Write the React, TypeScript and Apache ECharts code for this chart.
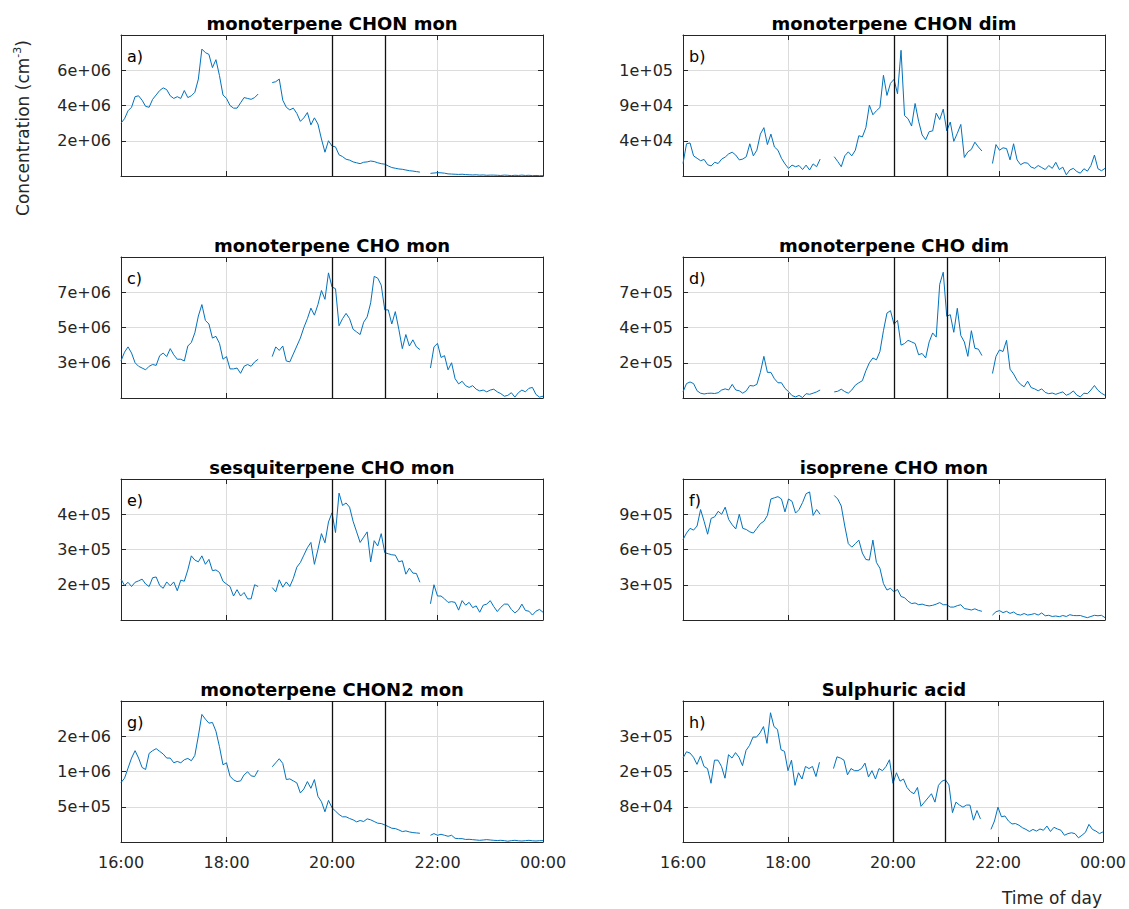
import React, { useEffect, useRef } from "react";
import * as echarts from "echarts";

// ---------- data ----------
const START_HOUR = 16;
const STEP_MINUTES = 4;
const X_TICKS = [16, 18, 20, 22, 24];
const X_TICK_LABELS = ["16:00", "18:00", "20:00", "22:00", "00:00"];
const EVENT_HOURS = [20, 21];

// a) monoterpene CHON mon, x1e6 cm-3
const chonMon = [
  3.0, 3.25, 3.7, 3.9, 4.5, 4.55, 4.3, 3.95, 3.9, 4.35,
  4.6, 4.85, 5.0, 4.9, 4.55, 4.4, 4.5, 4.4, 4.85, 4.45,
  4.55, 4.75, 5.5, 7.2, 7.0, 6.9, 6.15, 6.6, 5.7, 4.6,
  4.4, 4.0, 3.85, 3.85, 4.15, 4.45, 4.4, 4.35, 4.45, 4.65,
  null, null, null,
  5.3, 5.35, 5.5, 4.3, 3.9, 3.75, 3.85,
  3.55, 3.1, 3.3, 3.6, 2.9, 3.3, 2.95, 2.1, 1.35, 2.0,
  1.7, 1.65, 1.2, 1.1, 0.95, 0.9, 0.8, 0.75, 0.7, 0.78,
  0.8, 0.85, 0.82, 0.75, 0.7, 0.67, 0.57, 0.48, 0.44, 0.4,
  0.38, 0.34, 0.3, 0.28, 0.25, 0.22,
  null, null,
  0.15, 0.17, 0.19, 0.18, 0.16, 0.12, 0.11, 0.1, 0.09, 0.1, 0.08, 0.07,
  0.06, 0.07, 0.05, 0.06, 0.04, 0.05, 0.05, 0.04, 0.03, 0.05,
  0.04, 0.02, 0.04, 0.03, 0.05, 0.03, 0.04, 0.02, 0.03, 0.02, 0.02,
];

// b) monoterpene CHON dim, x1e4 cm-3
const chonDim = [
  1.55, 4.0, 4.1, 2.5, 2.2, 1.9, 2.05, 1.4, 1.25, 1.7,
  1.55, 2.1, 2.35, 2.75, 2.95, 2.6, 2.0, 2.1, 2.4, 4.0,
  2.5, 3.2, 5.2, 6.0, 3.9, 5.2, 3.6, 3.2, 2.2, 1.5,
  0.95, 1.35, 1.15, 1.3, 0.8, 1.35, 0.75, 1.5, 1.15, 2.1,
  null, null, null,
  2.4, 1.8, 1.15, 2.5, 3.0, 2.5, 3.2,
  5.0, 4.85, 6.0, 8.8, 7.6, 8.1, 8.5, 12.5, 10.0, 11.5,
  12.0, 10.2, 15.6, 7.5, 7.1, 6.2, 9.0, 6.8, 5.1, 4.5,
  5.5, 5.6, 7.8, 7.0, 8.3, 5.6, 6.7, 4.3, 5.3, 6.4,
  2.3, 3.0, 3.3, 4.2, 3.6, 3.1,
  null, null,
  1.55, 3.9, 3.2, 3.5, 3.4, 2.0, 4.0, 2.0, 1.4, 1.65, 1.6, 1.1,
  0.95, 1.3, 1.05, 0.8, 1.3, 0.95, 1.7, 0.8, 1.1, 0.15,
  0.75, 0.95, 0.55, 0.35, 0.9, 0.6, 1.3, 2.6, 0.9, 0.65, 0.95,
];

// c) monoterpene CHO mon, x1e6 cm-3
const choMon = [
  3.1, 3.6, 3.9, 3.55, 3.0, 2.8, 2.7, 2.6, 2.8, 2.9,
  2.85, 3.4, 3.55, 3.35, 3.8, 3.45, 3.2, 3.2, 3.1, 3.95,
  4.15, 4.7, 5.65, 6.3, 5.4, 5.2, 4.4, 4.5, 4.1, 3.2,
  3.35, 2.65, 2.65, 2.7, 2.4, 2.8, 2.9, 2.8, 3.05, 3.2,
  null, null, null,
  3.35, 3.9, 3.7, 3.95, 3.1, 3.05, 3.5,
  3.95, 4.4, 5.0, 5.5, 6.1, 5.7, 6.3, 7.1, 6.6, 8.1,
  7.3, 7.2, 5.1, 5.5, 5.8, 5.5, 4.9, 4.75, 4.6, 5.3,
  5.6, 6.4, 7.9, 7.8, 7.4, 6.0, 6.0, 5.2, 5.9, 4.9,
  3.8, 4.6, 3.95, 4.3, 3.9, 3.75,
  null, null,
  2.7, 3.9, 4.1, 3.3, 3.4, 2.6, 3.0, 2.1, 1.8, 1.95, 1.7, 1.6,
  1.7, 1.5, 1.4, 1.45, 1.35, 1.45, 1.5, 1.35, 1.25, 1.1,
  1.15, 1.3, 1.05, 1.3, 1.45, 1.35, 1.55, 1.6, 1.2, 1.05, 1.1,
];

// d) monoterpene CHO dim, x1e5 cm-3
const choDim = [
  0.38, 0.9, 1.0, 0.9, 0.45, 0.3, 0.25, 0.29, 0.3, 0.28,
  0.33, 0.5, 0.57, 0.5, 0.85, 0.5, 0.45, 0.3, 0.45, 0.78,
  0.75, 0.85, 1.6, 2.6, 1.6, 1.6, 1.2, 0.95, 0.95, 0.6,
  0.4, 0.15, 0.07, 0.16, 0.03, 0.27, 0.23, 0.3, 0.38, 0.5,
  null, null, null,
  0.38, 0.42, 0.55, 0.4, 0.3, 0.5, 0.8,
  0.95, 1.08, 1.7, 2.2, 2.5, 2.38, 2.9, 4.2, 5.3, 5.45,
  4.6, 4.85, 3.3, 3.4, 3.6, 3.5, 3.4, 2.7, 2.78, 2.5,
  3.5, 4.06, 3.8, 7.1, 7.85, 5.1, 5.2, 4.1, 5.6, 3.9,
  3.5, 2.6, 4.2, 3.1, 3.05, 2.65,
  null, null,
  1.53, 2.6, 3.0, 2.9, 3.6, 1.8, 1.5, 1.1, 0.85, 0.7, 1.05, 0.65,
  0.57, 0.45, 0.57, 0.35, 0.27, 0.31, 0.23, 0.31, 0.38, 0.17,
  0.27, 0.44, 0.18, 0.07, 0.3, 0.27, 0.5, 0.78, 0.48, 0.3, 0.17,
];

// e) sesquiterpene CHO mon, x1e5 cm-3
const sesquiMon = [
  2.16, 1.98, 2.07, 1.95, 2.07, 2.11, 2.16, 2.02, 1.95, 2.2,
  2.22, 1.98, 1.9, 2.08, 1.97, 2.08, 1.83, 2.13, 2.1, 2.42,
  2.82, 2.7, 2.65, 2.82, 2.58, 2.72, 2.4, 2.42, 2.35, 2.1,
  2.02, 1.95, 1.68, 1.86, 1.68, 1.78, 1.6, 1.6, 2.0, 1.95,
  null, null, null,
  1.92, 1.8, 2.14, 1.93, 2.08, 1.95, 2.18,
  2.5, 2.63, 2.84, 3.05, 3.2, 2.58, 3.0, 3.45, 3.19, 3.78,
  4.04, 3.48, 4.6, 4.25, 4.32, 4.2, 3.8, 3.5, 3.2, 3.35,
  3.5, 2.65, 3.25, 3.1, 3.45, 2.91, 2.88, 2.85, 2.84, 2.65,
  2.68, 2.3, 2.47, 2.33, 2.32, 2.07,
  null, null,
  1.46, 2.0, 1.68, 1.68, 1.6, 1.5, 1.52, 1.5, 1.28, 1.55, 1.42, 1.5,
  1.35, 1.4, 1.22, 1.42, 1.45, 1.55, 1.38, 1.24, 1.36, 1.45,
  1.45, 1.3, 1.2, 1.28, 1.45, 1.27, 1.25, 1.14, 1.25, 1.3, 1.22,
];

// f) isoprene CHO mon, x1e5 cm-3
const isopreneMon = [
  6.84, 7.4, 7.8, 7.65, 8.0, 9.4, 8.4, 7.3, 8.65, 8.78,
  9.25, 9.0, 9.6, 8.55, 8.1, 7.75, 9.0, 7.8, 7.7, 7.5,
  7.4, 7.8, 8.2, 8.4, 8.9, 10.3, 10.4, 10.5, 10.3, 9.2,
  10.3, 10.1, 9.1, 9.4, 10.0, 10.75, 10.9, 8.9, 9.4, 9.0,
  null, null, null,
  10.6, 10.3, 9.7, 8.0, 6.5, 6.2, 6.5,
  6.8, 5.7, 5.15, 5.1, 6.8, 4.9, 4.4, 3.1, 2.55, 2.7,
  2.4, 2.6, 2.0, 1.9, 1.6, 1.4, 1.45, 1.3, 1.35, 1.25,
  1.2, 1.25, 1.35, 1.48, 1.3, 1.3, 1.1, 1.1, 1.22, 1.3,
  0.97, 0.92, 0.85, 0.95, 0.82, 0.74,
  null, null,
  0.42, 0.7, 0.8, 0.63, 0.74, 0.56, 0.68, 0.48, 0.42, 0.55, 0.42, 0.47,
  0.55, 0.42, 0.6, 0.36, 0.4, 0.3, 0.34, 0.28, 0.38, 0.3,
  0.45, 0.38, 0.37, 0.38, 0.28, 0.2, 0.3, 0.4, 0.36, 0.4, 0.2,
];

// g) monoterpene CHON2 mon, x1e5 cm-3
const chon2Mon = [
  8.85, 9.5, 11.0, 12.5, 13.6, 12.5, 11.1, 10.8, 13.2, 13.6,
  13.9, 13.5, 13.1, 12.5, 12.5, 11.8, 12.0, 11.8, 12.25, 12.45,
  12.1, 12.9, 15.8, 19.0, 18.3, 17.7, 17.8, 16.5, 14.2, 11.5,
  11.8, 9.8, 9.25, 9.0, 9.1, 10.0, 10.45, 9.85, 9.75, 10.7,
  null, null, null,
  11.2, 11.8, 12.4, 11.7, 9.3, 9.4, 9.1,
  8.8, 7.3, 7.9, 9.0, 8.0, 9.3, 6.8, 6.0, 4.5, 6.2,
  5.1, 4.6, 4.1, 3.75, 3.75, 3.5, 3.3, 3.0, 3.2, 3.05,
  3.45, 3.3, 3.05, 2.8, 2.75, 2.55, 2.3, 2.05, 2.0, 1.8,
  1.55, 1.65, 1.5, 1.4, 1.35, 1.3,
  null, null,
  1.0, 1.25, 1.0, 1.15, 1.0, 0.85, 1.0, 0.55, 0.5, 0.5, 0.38, 0.4,
  0.35, 0.3, 0.25, 0.3, 0.35, 0.3, 0.25, 0.22, 0.25, 0.2,
  0.12, 0.2, 0.25, 0.18, 0.15, 0.2, 0.25, 0.18, 0.15, 0.2, 0.2,
];

// h) Sulphuric acid, x1e4 cm-3
const sulphuric = [
  20.0, 21.5, 21.2, 20.2, 18.5, 20.5, 18.0, 17.5, 14.0, 19.5,
  19.5, 18.0, 15.2, 20.8, 20.0, 21.3, 20.2, 18.2, 21.8, 23.0,
  25.0, 25.0, 26.0, 27.5, 23.5, 30.8, 27.5, 26.8, 22.0, 21.6,
  17.0, 19.5, 13.5, 16.5, 15.0, 18.0, 17.5, 18.0, 15.6, 19.0,
  null, null, null,
  17.5, 20.3, 20.0, 19.5, 16.0, 17.5, 17.0,
  17.0, 17.5, 18.8, 15.5, 17.0, 15.0, 17.5, 17.0, 18.0, 19.6,
  14.0, 16.5, 14.5, 15.0, 13.0, 12.0, 11.5, 13.0, 8.5, 9.5,
  10.5, 11.5, 9.5, 13.5, 14.5, 14.8, 13.6, 7.0, 9.5, 8.8,
  8.3, 8.8, 8.8, 5.2, 7.5, 5.5,
  null, null,
  3.0, 5.0, 8.3, 6.0, 6.2, 5.0, 4.3, 4.4, 4.0, 3.4, 3.0, 2.5,
  3.0, 2.6, 3.1, 2.8, 3.8, 2.5, 3.5, 3.1, 2.8, 1.6,
  2.0, 2.2, 2.0, 1.0, 1.6, 2.3, 4.2, 3.0, 2.6, 2.0, 2.4,
];

const TITLES = [
  "monoterpene CHON mon", "monoterpene CHON dim",
  "monoterpene CHO mon", "monoterpene CHO dim",
  "sesquiterpene CHO mon", "isoprene CHO mon",
  "monoterpene CHON2 mon", "Sulphuric acid",
];
const TAGS = ["a)", "b)", "c)", "d)", "e)", "f)", "g)", "h)"];
const SERIES_VALUES = [chonMon, chonDim, choMon, choDim, sesquiMon, isopreneMon, chon2Mon, sulphuric];
const VALUE_SCALES = [1e6, 1e4, 1e6, 1e5, 1e5, 1e5, 1e5, 1e4];
const Y_MIN = [0, 0, 1e6, 0, 1e5, 0, 0, 0];
const Y_MAX = [8e6, 1.75e5, 9e6, 8.8e5, 5e5, 1.2e6, 2.1e6, 3.36e5];
const Y_TICKS = [
  [2e6, 4e6, 6e6],
  [4.375e4, 8.75e4, 1.3125e5],
  [3e6, 5e6, 7e6],
  [2.2e5, 4.4e5, 6.6e5],
  [2e5, 3e5, 4e5],
  [3e5, 6e5, 9e5],
  [5.25e5, 1.05e6, 1.575e6],
  [8.4e4, 1.68e5, 2.52e5],
];
const Y_TICK_LABELS = [
  ["2e+06", "4e+06", "6e+06"],
  ["4e+04", "9e+04", "1e+05"],
  ["3e+06", "5e+06", "7e+06"],
  ["2e+05", "4e+05", "7e+05"],
  ["2e+05", "3e+05", "4e+05"],
  ["3e+05", "6e+05", "9e+05"],
  ["5e+05", "1e+06", "2e+06"],
  ["8e+04", "2e+05", "3e+05"],
];

// ---------- layout / style ----------
const GRID_LEFTS = [121, 683];
const GRID_TOPS = [35, 257, 479, 701];
const GRID_W = 422;
const GRID_H = 141;
const FONT = "'DejaVu Sans', sans-serif";
const AXIS_COLOR = "#262626";
const GRID_COLOR = "#dcdcdc";
const LINE_COLOR = "#0072BD";

function lookupLabel(ticks: number[], labels: string[], v: number): string {
  for (let j = 0; j < ticks.length; j++) {
    if (Math.abs(ticks[j] - v) <= Math.abs(ticks[j]) * 1e-6) return labels[j];
  }
  return "";
}

function buildOption() {
  const grid: any[] = [];
  const xAxis: any[] = [];
  const yAxis: any[] = [];
  const series: any[] = [];
  const graphic: any[] = [];

  SERIES_VALUES.forEach((vals, k) => {
    const col = k % 2;
    const row = Math.floor(k / 2);
    const left = GRID_LEFTS[col];
    const top = GRID_TOPS[row];
    const isBottom = row === 3;
    grid.push({ left, top, width: GRID_W, height: GRID_H, containLabel: false });

    const lineStyle = { color: AXIS_COLOR, width: 1 };
    xAxis.push({
      type: "value", gridIndex: k, min: 16, max: 24, interval: 2, position: "bottom",
      axisLine: { show: true, onZero: false, lineStyle },
      axisTick: { show: true, inside: true, length: 5, lineStyle },
      axisLabel: {
        show: isBottom, margin: 12, color: AXIS_COLOR, fontFamily: FONT, fontSize: 16,
        formatter: (v: number) => lookupLabel(X_TICKS, X_TICK_LABELS, v),
      },
      splitLine: { show: true, lineStyle: { color: GRID_COLOR, width: 1 } },
    });
    xAxis.push({
      type: "value", gridIndex: k, min: 16, max: 24, interval: 2, position: "top",
      axisLine: { show: true, onZero: false, lineStyle },
      axisTick: { show: true, inside: true, length: 5, lineStyle },
      axisLabel: { show: false },
      splitLine: { show: false },
    });
    const ticks = Y_TICKS[k];
    const labels = Y_TICK_LABELS[k];
    yAxis.push({
      type: "value", gridIndex: k, min: Y_MIN[k], max: Y_MAX[k], position: "left",
      axisLine: { show: true, onZero: false, lineStyle },
      axisTick: { show: true, inside: true, length: 5, lineStyle, customValues: ticks },
      axisLabel: {
        show: true, margin: 10, color: AXIS_COLOR, fontFamily: FONT, fontSize: 16,
        customValues: ticks,
        formatter: (v: number) => lookupLabel(ticks, labels, v),
      },
      splitLine: { show: true, lineStyle: { color: GRID_COLOR, width: 1 } },
    });
    yAxis.push({
      type: "value", gridIndex: k, min: Y_MIN[k], max: Y_MAX[k], position: "right",
      axisLine: { show: true, onZero: false, lineStyle },
      axisTick: { show: true, inside: true, length: 5, lineStyle, customValues: ticks },
      axisLabel: { show: false },
      splitLine: { show: false },
    });

    const scale = VALUE_SCALES[k];
    const data = vals.map((v, i) => [
      START_HOUR + (i * STEP_MINUTES) / 60,
      v === null ? null : v * scale,
    ]);
    series.push({
      type: "line", xAxisIndex: 2 * k, yAxisIndex: 2 * k, data,
      showSymbol: false, symbol: "none", connectNulls: false,
      lineStyle: { color: LINE_COLOR, width: 1 },
      z: 3,
      markLine: {
        silent: true, symbol: "none", label: { show: false },
        lineStyle: { color: "#111", width: 1.3, type: "solid" },
        data: EVENT_HOURS.map((h) => ({ xAxis: h })),
        z: 4,
      },
    });

    graphic.push({
      type: "text", x: left + GRID_W / 2, y: top - 3,
      style: { text: TITLES[k], font: `bold 18px ${FONT}`, fill: "#000", align: "center", verticalAlign: "bottom" },
    });
    graphic.push({
      type: "text", x: left + 6, y: top + 21,
      style: { text: TAGS[k], font: `16px ${FONT}`, fill: "#000", align: "left", verticalAlign: "middle" },
    });
  });

  graphic.push({
    type: "text", x: 23, y: 128, rotation: Math.PI / 2,
    style: {
      text: "{a|Concentration (cm}{s|-3}{a|)}",
      align: "center", verticalAlign: "middle",
      rich: {
        a: { fontSize: 17, fontFamily: FONT, fill: "#262626", lineHeight: 22 },
        s: { fontSize: 11, fontFamily: FONT, fill: "#262626", verticalAlign: "top", lineHeight: 14 },
      },
    },
  });
  graphic.push({
    type: "text", x: 1052, y: 898,
    style: { text: "Time of day", font: `17px ${FONT}`, fill: "#262626", align: "center", verticalAlign: "middle" },
  });

  return { animation: false, backgroundColor: "#fff", grid, xAxis, yAxis, series, graphic };
}

export default function App() {
  const ref = useRef<HTMLDivElement>(null);
  useEffect(() => {
    if (!ref.current) return;
    const chart = echarts.init(ref.current, undefined, { renderer: "svg" });
    chart.setOption(buildOption() as any);
    return () => chart.dispose();
  }, []);
  return (
    <div
      ref={ref}
      style={{ position: "absolute", left: 0, top: 0, width: 1129, height: 909 }}
    />
  );
}
